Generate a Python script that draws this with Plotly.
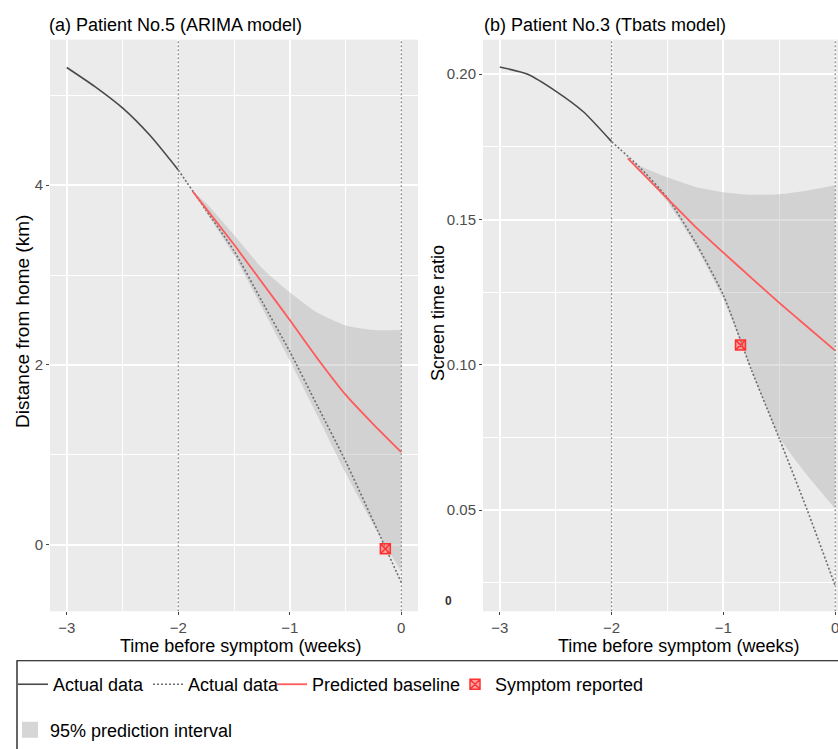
import plotly.graph_objects as go

# ---------------- data ----------------
# Panel (a): Patient No.5, ARIMA model — distance from home (km)
t_hist = [-3, -2.75, -2.5, -2.25, -2]
t_after = [-2, -1.75, -1.5, -1.25, -1.0, -0.75, -0.5, -0.25, 0]

hist_a = [5.31, 5.10, 4.86, 4.55, 4.17]
after_a = [4.17, 3.72, 3.27, 2.71, 2.15, 1.54, 0.93, 0.26, -0.42]
t_pred_a = [-1.87, -1.75, -1.5, -1.25, -1.0, -0.75, -0.5, -0.25, 0]
pred_a = [3.93, 3.74, 3.34, 2.92, 2.50, 2.07, 1.67, 1.34, 1.03]
upper_a = [3.93, 3.80, 3.45, 3.08, 2.81, 2.58, 2.44, 2.39, 2.39]
lower_a = [3.93, 3.70, 3.22, 2.64, 2.05, 1.43, 0.80, 0.22, -0.30]
symptom_a_t = [-0.143]
symptom_a_v = [-0.044]

# Panel (b): Patient No.3, Tbats model — screen time ratio
hist_b = [0.2025, 0.2000, 0.1942, 0.1870, 0.1768]
after_b = [0.1768, 0.1680, 0.1574, 0.1422, 0.1240, 0.0983, 0.0746, 0.0500, 0.0240]
t_pred_b = [-1.855, -1.75, -1.5, -1.25, -1.0, -0.75, -0.5, -0.25, 0]
pred_b = [0.1710, 0.1669, 0.1572, 0.1475, 0.1386, 0.1299, 0.1213, 0.1131, 0.1049]
upper_b = [0.1710, 0.1685, 0.1645, 0.1612, 0.1594, 0.1585, 0.1587, 0.1600, 0.1618]
lower_b = [0.1710, 0.1670, 0.1560, 0.1410, 0.1225, 0.0985, 0.0752, 0.0620, 0.0505]
symptom_b_t = [-0.847]
symptom_b_v = [0.1068]

event_lines = [-2, 0]

panel_titles = ["(a) Patient No.5 (ARIMA model)", "(b) Patient No.3 (Tbats model)"]
y_titles = ["Distance from home (km)", "Screen time ratio"]
x_title = "Time before symptom (weeks)"
legend_labels = ["Actual data", "Actual data", "Predicted baseline",
                 "Symptom reported", "95% prediction interval"]

# ---------------- styling ----------------
W, H = 838, 749
FONT = "Liberation Sans, Arial, Helvetica, sans-serif"
C_HIST = "#4a4a4a"
C_DOT = "#6e6e6e"
C_RED = "#FF5A5A"
C_BAND = "rgba(170,170,170,0.38)"
C_BAND_LEG = "#D6D6D6"


def fx(p):
    return p / W


def fy(p):
    return 1 - p / H


fig = go.Figure()

panels = [
    dict(xa="x", ya="y", hist=hist_a, after=after_a, tp=t_pred_a, pred=pred_a,
         up=upper_a, lo=lower_a, st=symptom_a_t, sv=symptom_a_v),
    dict(xa="x2", ya="y2", hist=hist_b, after=after_b, tp=t_pred_b, pred=pred_b,
         up=upper_b, lo=lower_b, st=symptom_b_t, sv=symptom_b_v),
]

for i, p in enumerate(panels):
    first = i == 0
    # prediction band
    fig.add_trace(go.Scatter(x=p["tp"], y=p["up"], xaxis=p["xa"], yaxis=p["ya"],
                             mode="lines", line=dict(width=0, shape="spline", smoothing=0.6),
                             showlegend=False, hoverinfo="skip"))
    fig.add_trace(go.Scatter(x=p["tp"], y=p["lo"], xaxis=p["xa"], yaxis=p["ya"],
                             mode="lines", line=dict(width=0, shape="spline", smoothing=0.6),
                             fill="tonexty", fillcolor=C_BAND, showlegend=False,
                             hoverinfo="skip"))
    # actual data (history, solid)
    fig.add_trace(go.Scatter(x=t_hist, y=p["hist"], xaxis=p["xa"], yaxis=p["ya"],
                             mode="lines",
                             line=dict(color=C_HIST, width=1.6, shape="spline", smoothing=0.6),
                             name=legend_labels[0], legendgroup="hist", showlegend=first,
                             legend="legend"))
    # actual data (after, dotted)
    fig.add_trace(go.Scatter(x=t_after, y=p["after"], xaxis=p["xa"], yaxis=p["ya"],
                             mode="lines",
                             line=dict(color=C_DOT, width=1.6, dash="2px,2px",
                                       shape="spline", smoothing=0.6),
                             name=legend_labels[1], legendgroup="after", showlegend=first,
                             legend="legend2"))
    # predicted baseline
    fig.add_trace(go.Scatter(x=p["tp"], y=p["pred"], xaxis=p["xa"], yaxis=p["ya"],
                             mode="lines",
                             line=dict(color=C_RED, width=1.8, shape="spline", smoothing=0.6),
                             name=legend_labels[2], legendgroup="pred",
                             showlegend=first, legend="legend3"))
    # symptom reported
    fig.add_trace(go.Scatter(x=p["st"], y=p["sv"], xaxis=p["xa"], yaxis=p["ya"],
                             mode="markers",
                             marker=dict(symbol="square-x", size=10,
                                         color="rgba(255,90,90,0.55)",
                                         line=dict(color="#FF3030", width=1.5)),
                             name=legend_labels[3], legendgroup="sym",
                             showlegend=first, legend="legend4"))

# legend proxy for the 95% band
fig.add_trace(go.Scatter(x=[None], y=[None], mode="markers",
                         marker=dict(symbol="square", size=17, color=C_BAND_LEG),
                         name=legend_labels[4], legend="legend5"))

for p in panels:
    for xv in event_lines:
        fig.add_shape(type="line", xref=p["xa"], yref=p["ya"] + " domain",
                      x0=xv, x1=xv, y0=0, y1=1, layer="above",
                      line=dict(color="#8a8a8a", width=1.3, dash="2px,2px"))

tickfont = dict(family=FONT, size=15, color="#4D4D4D")
common_axis = dict(showline=False, zeroline=False, ticks="outside", ticklen=3,
                   tickwidth=1, tickcolor="#444444", gridcolor="white", gridwidth=1.5,
                   tickfont=tickfont, fixedrange=True, ticklabeloverflow="allow")

y_top, y_bot = 40, 617


def leg(xpx, ypx):
    return dict(orientation="h", x=fx(xpx), y=fy(ypx), xanchor="left", yanchor="middle",
                font=dict(family=FONT, size=18, color="black"),
                bgcolor="rgba(0,0,0,0)", borderwidth=0, itemwidth=30)


fig.update_layout(
    width=W, height=H,
    margin=dict(l=0, r=0, t=0, b=0),
    paper_bgcolor="white", plot_bgcolor="#EBEBEB",
    font=dict(family=FONT, color="black"),
    xaxis=dict(domain=[fx(50), fx(418)], range=[-3.15, 0.15], anchor="y",
               tickmode="linear", tick0=-3, dtick=1,
               minor=dict(dtick=0.5, tick0=-3, showgrid=True, gridcolor="white", gridwidth=0.7),
               **common_axis),
    yaxis=dict(domain=[fy(y_bot), fy(y_top)], range=[-0.74, 5.62], anchor="x",
               tickmode="linear", tick0=0, dtick=2,
               minor=dict(dtick=1, tick0=0, showgrid=True, gridcolor="white", gridwidth=0.7),
               **common_axis),
    xaxis2=dict(domain=[fx(483), 1.0], range=[-3.15, 0.025], anchor="y2",
                tickmode="linear", tick0=-3, dtick=1,
                minor=dict(dtick=0.5, tick0=-3, showgrid=True, gridcolor="white", gridwidth=0.7),
                **common_axis),
    yaxis2=dict(domain=[fy(y_bot), fy(y_top)], range=[0.0152, 0.2119], anchor="x2",
                tickmode="linear", tick0=0, dtick=0.05, tickformat=".2f",
                minor=dict(dtick=0.025, tick0=0, showgrid=True, gridcolor="white", gridwidth=0.7),
                **common_axis),
    legend=leg(13, 691),
    legend2=leg(148, 691),
    legend3=leg(272, 691),
    legend4=leg(455, 691),
    legend5=leg(10, 737),
    showlegend=True,
)

# legend frame
fig.add_shape(type="rect", xref="paper", yref="paper",
              x0=fx(17), x1=fx(845), y0=fy(760), y1=fy(667),
              line=dict(color="black", width=1.2), fillcolor="rgba(0,0,0,0)", layer="above")

for txt, xp in zip(panel_titles, [47, 482]):
    fig.add_annotation(text=txt, xref="paper", yref="paper", x=fx(xp), y=fy(25),
                       xanchor="left", yanchor="middle", showarrow=False,
                       font=dict(family=FONT, size=18, color="black"))

for xp in [241, 678]:
    fig.add_annotation(text=x_title, xref="paper", yref="paper", x=fx(xp), y=fy(652),
                       showarrow=False, xanchor="center", yanchor="middle",
                       font=dict(family=FONT, size=18, color="black"))

fig.add_annotation(text=y_titles[0], xref="paper", yref="paper", x=fx(23), y=fy(325),
                   showarrow=False, xanchor="center", yanchor="middle", textangle=-90,
                   font=dict(family=FONT, size=19, color="black"))
fig.add_annotation(text=y_titles[1], xref="paper", yref="paper", x=fx(438), y=fy(316),
                   showarrow=False, xanchor="center", yanchor="middle", textangle=-90,
                   font=dict(family=FONT, size=18, color="black"))
# stray "0" label seen at the bottom of panel (b)'s axis
fig.add_annotation(text="<b>0</b>", xref="paper", yref="paper", x=fx(448), y=fy(607),
                   showarrow=False, xanchor="center", yanchor="middle",
                   font=dict(family=FONT, size=12, color="#333333"))

fig.write_html("out.html", config={"responsive": False, "displayModeBar": False},
               post_script="document.body.style.margin='0';document.body.style.overflow='hidden';")
